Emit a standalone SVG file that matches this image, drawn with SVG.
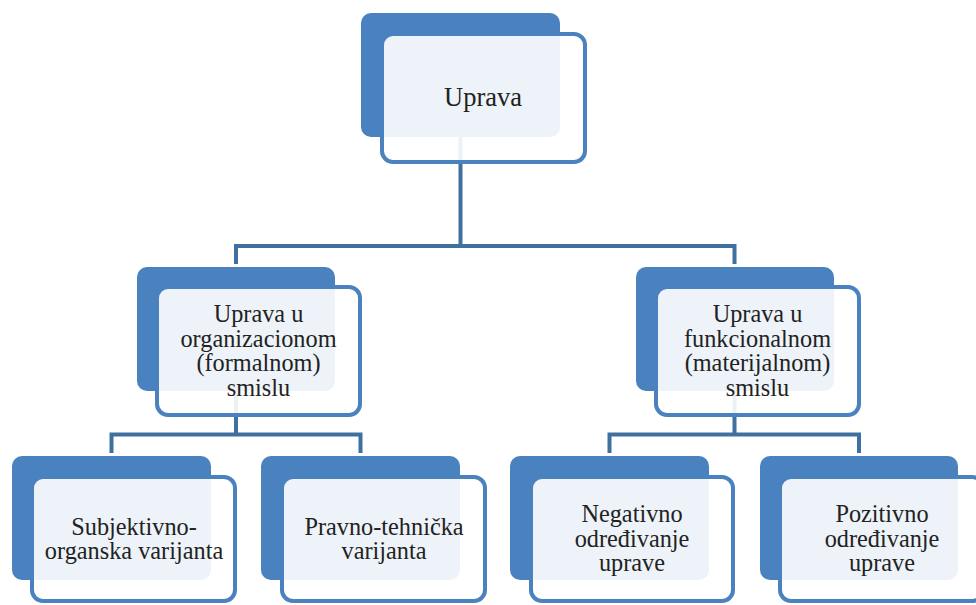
<svg xmlns="http://www.w3.org/2000/svg" width="976" height="605" viewBox="0 0 976 605">
<style>
.back{fill:#4a81bf}
.front{fill:#ffffff;fill-opacity:0.9;stroke:#4a81bf;stroke-width:4}
.conn{fill:none;stroke:#40709f;stroke-width:4;stroke-linejoin:miter;stroke-linecap:butt}
text{font-family:"Liberation Serif","Times New Roman",serif;font-size:24.3px;fill:#222;text-anchor:middle}
.big{font-size:26.5px}
</style>
<rect width="976" height="605" fill="#ffffff"/>
<g id="connectors">
<path class="conn" d="M460.5 137 V246"/>
<path class="conn" d="M236 264 V246 H734.5 V264"/>
<path class="conn" d="M236 391 V434.5"/>
<path class="conn" d="M111.5 453 V434.5 H360.5 V453"/>
<path class="conn" d="M734.5 391 V434.5"/>
<path class="conn" d="M609.5 453 V434.5 H859 V453"/>
</g>
<g id="uprava">
<rect class="back" x="361" y="13" width="199" height="124" rx="10"/>
<rect class="front" x="382" y="34" width="203" height="128" rx="11"/>
<text class="big" x="483" y="106">Uprava</text>
</g>
<g id="organizacioni">
<rect class="back" x="137" y="267" width="198" height="124" rx="10"/>
<rect class="front" x="157" y="287" width="203" height="128" rx="11"/>
<text x="258.5" y="322">Uprava u</text>
<text x="258.5" y="346.5">organizacionom</text>
<text x="258.5" y="371">(formalnom)</text>
<text x="258.5" y="396">smislu</text>
</g>
<g id="funkcionalni">
<rect class="back" x="636" y="267" width="198" height="124" rx="10"/>
<rect class="front" x="656" y="287" width="203" height="128" rx="11"/>
<text x="757.5" y="322">Uprava u</text>
<text x="757.5" y="346.5">funkcionalnom</text>
<text x="757.5" y="371">(materijalnom)</text>
<text x="757.5" y="396">smislu</text>
</g>
<g id="subjektivno">
<rect class="back" x="12" y="456" width="199" height="124" rx="10"/>
<rect class="front" x="32" y="477" width="203" height="124" rx="11"/>
<text x="134" y="535">Subjektivno-</text>
<text x="134" y="559">organska varijanta</text>
</g>
<g id="pravno">
<rect class="back" x="261" y="456" width="199" height="124" rx="10"/>
<rect class="front" x="282" y="477" width="203" height="124" rx="11"/>
<text x="384" y="535">Pravno-tehnička</text>
<text x="384" y="559">varijanta</text>
</g>
<g id="negativno">
<rect class="back" x="510" y="456" width="199" height="124" rx="10"/>
<rect class="front" x="531" y="477" width="202" height="124" rx="11"/>
<text x="632" y="522">Negativno</text>
<text x="632" y="547">određivanje</text>
<text x="632" y="571">uprave</text>
</g>
<g id="pozitivno">
<rect class="back" x="760" y="456" width="198" height="124" rx="10"/>
<rect class="front" x="780" y="477" width="203" height="124" rx="11"/>
<text x="882" y="522">Pozitivno</text>
<text x="882" y="547">određivanje</text>
<text x="882" y="571">uprave</text>
</g>
</svg>
